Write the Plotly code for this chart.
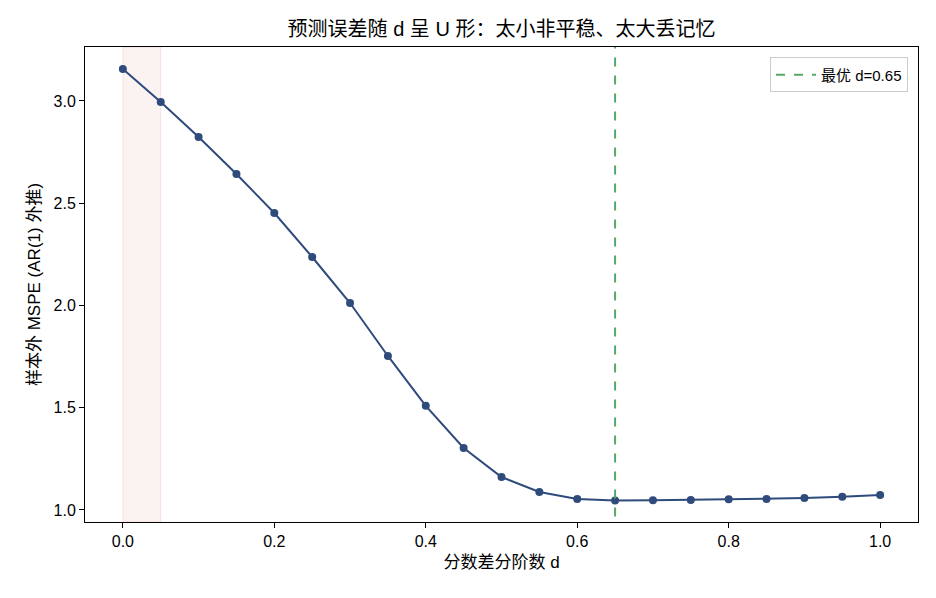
import plotly.graph_objects as go

d_values = [0.0, 0.05, 0.1, 0.15, 0.2, 0.25, 0.3, 0.35, 0.4, 0.45, 0.5,
            0.55, 0.6, 0.65, 0.7, 0.75, 0.8, 0.85, 0.9, 0.95, 1.0]
mspe = [3.156, 2.995, 2.824, 2.643, 2.452, 2.237, 2.012, 1.753, 1.509, 1.303, 1.161,
        1.088, 1.054, 1.046, 1.047, 1.049, 1.052, 1.054, 1.058, 1.064, 1.073]
best_d = 0.65
shade_range = [0.0, 0.05]

font_fam = "Arial, Liberation Sans, Noto Sans CJK SC, sans-serif"

fig = go.Figure()

fig.add_vrect(x0=shade_range[0], x1=shade_range[1],
              fillcolor="rgba(205,92,92,0.08)",
              line=dict(color="rgba(205,92,92,0.15)", width=1), layer="below")

fig.add_trace(go.Scatter(
    x=d_values, y=mspe, mode="lines+markers",
    line=dict(color="#2f4b7c", width=2),
    marker=dict(color="#2f4b7c", size=8),
    showlegend=False,
))

fig.add_trace(go.Scatter(
    x=[best_d, best_d], y=[0, 5], mode="lines",
    line=dict(color="#55a868", width=2, dash="dash"),
    name=f"最优 d={best_d}", showlegend=True,
))

fig.update_layout(
    width=936, height=598,
    margin=dict(l=85, r=18, t=47, b=76),
    paper_bgcolor="white", plot_bgcolor="white",
    font=dict(family=font_fam, size=16, color="black"),
    title=dict(text="预测误差随 d 呈 U 形：太小非平稳、太大丢记忆",
               x=(85 + 918) / 2 / 936, xanchor="center", y=1 - 29 / 598, yanchor="middle",
               font=dict(size=20, color="black")),
    legend=dict(x=0.988, y=0.978, xanchor="right", yanchor="top",
                bgcolor="rgba(255,255,255,0.8)", bordercolor="#cccccc", borderwidth=1,
                font=dict(size=15), itemwidth=40),
    xaxis=dict(range=[-0.05, 1.05], tickvals=[0, 0.2, 0.4, 0.6, 0.8, 1.0],
               tickformat=".1f", showgrid=False, zeroline=False,
               showline=True, linecolor="black", linewidth=1, mirror=True,
               ticks="outside", ticklen=5, tickcolor="black",
               title=dict(text="分数差分阶数 d", font=dict(size=17), standoff=6)),
    yaxis=dict(range=[0.941, 3.264], tickvals=[1.0, 1.5, 2.0, 2.5, 3.0],
               tickformat=".1f", showgrid=False, zeroline=False,
               showline=True, linecolor="black", linewidth=1, mirror=True,
               ticks="outside", ticklen=5, tickcolor="black",
               title=dict(text="样本外 MSPE (AR(1) 外推)", font=dict(size=17), standoff=8)),
)

fig.write_html("out.html")
